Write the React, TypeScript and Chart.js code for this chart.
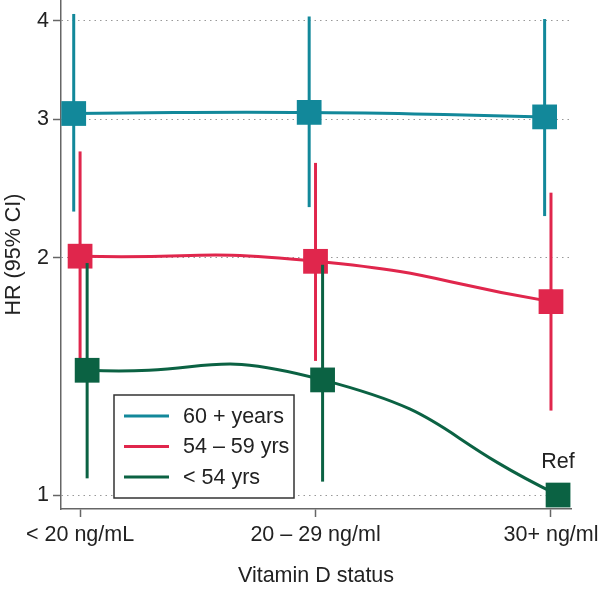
import { useEffect, useRef } from 'react';
import { Chart, registerables } from 'chart.js';
Chart.register(...registerables);

const categories = ['< 20 ng/mL', '20 – 29 ng/ml', '30+ ng/ml'];
const seriesLabels = ['60 + years', '54 – 59 yrs', '< 54 yrs'];
const seriesColors = ['#12889A', '#E0264C', '#0B6243'];
const hrOver60 = [3.05, 3.06, 3.02];
const loOver60 = [2.29, 2.32, 2.26];
const hiOver60 = [4.08, 4.05, 4.02];
const hr54to59 = [2.01, 1.98, 1.76];
const lo54to59 = [1.48, 1.48, 1.28];
const hi54to59 = [2.73, 2.64, 2.42];
const hrUnder54 = [1.44, 1.4, 1.0];
const loUnder54 = [1.05, 1.04, null];
const hiUnder54 = [1.97, 1.96, null];
const yTicks = [1, 2, 3, 4];
const refLabel = 'Ref';

const dodge = [-0.027, 0, 0.03];
const FONT = { family: "'Liberation Sans', Arial, sans-serif", size: 21.5 };
const TEXT = '#222';
const AXIS = '#666';

function build(hr: number[], lo: (number | null)[], hi: (number | null)[], s: number) {
  return categories.map((_, i) => ({ x: i + 1 + dodge[s], y: hr[i], lo: lo[i], hi: hi[i] }));
}

const errorBars = {
  id: 'errorBars',
  beforeDatasetDraw(chart: any, args: any) {
    const ds = chart.data.datasets[args.index];
    const xs = chart.scales.x;
    const ys = chart.scales.y;
    const ctx = chart.ctx;
    ctx.save();
    ctx.strokeStyle = ds.borderColor;
    ctx.lineWidth = 3;
    ds.data.forEach((d: any) => {
      if (d.lo == null || d.hi == null) return;
      const px = xs.getPixelForValue(d.x);
      ctx.beginPath();
      ctx.moveTo(px, ys.getPixelForValue(d.lo));
      ctx.lineTo(px, ys.getPixelForValue(d.hi));
      ctx.stroke();
    });
    ctx.restore();
  },
};

const refAndLegend = {
  id: 'refAndLegend',
  afterDatasetsDraw(chart: any) {
    const ctx = chart.ctx;
    const ds = chart.data.datasets[2];
    const last = ds.data[ds.data.length - 1];
    const px = chart.scales.x.getPixelForValue(last.x);
    const py = chart.scales.y.getPixelForValue(last.y);
    ctx.save();
    ctx.font = `${FONT.size}px ${FONT.family}`;
    ctx.fillStyle = TEXT;
    ctx.textAlign = 'center';
    ctx.textBaseline = 'middle';
    ctx.fillText(refLabel, px, py - 33);

    // legend box
    const bx = 114, by = 395, bw = 180, bh = 103;
    ctx.fillStyle = '#fff';
    ctx.fillRect(bx, by, bw, bh);
    ctx.strokeStyle = '#333';
    ctx.lineWidth = 1.5;
    ctx.strokeRect(bx, by, bw, bh);
    chart.data.datasets.forEach((d: any, i: number) => {
      const y = by + 21 + i * 30.5;
      ctx.strokeStyle = d.borderColor;
      ctx.lineWidth = 3;
      ctx.beginPath();
      ctx.moveTo(bx + 10, y);
      ctx.lineTo(bx + 55, y);
      ctx.stroke();
      ctx.fillStyle = TEXT;
      ctx.textAlign = 'left';
      ctx.textBaseline = 'middle';
      ctx.fillText(d.label, bx + 69, y + 1);
    });
    ctx.restore();
  },
};

export default function App() {
  const ref = useRef<HTMLCanvasElement>(null);
  useEffect(() => {
    const series = [
      build(hrOver60, loOver60, hiOver60, 0),
      build(hr54to59, lo54to59, hi54to59, 1),
      build(hrUnder54, loUnder54, hiUnder54, 2),
    ];
    const chart = new Chart(ref.current!, {
      type: 'line',
      data: {
        datasets: series.map((data, s) => ({
          label: seriesLabels[s],
          data,
          borderColor: seriesColors[s],
          backgroundColor: seriesColors[s],
          borderWidth: 3,
          tension: 0.55,
          pointStyle: 'rect',
          pointRadius: 17.5,
          pointBorderWidth: 0,
          pointBackgroundColor: seriesColors[s],
          order: 3 - s,
          clip: false,
        })),
      } as any,
      options: {
        responsive: false,
        animation: false,
        layout: { autoPadding: false, padding: { left: 0, right: 29, top: 0, bottom: 0 } },
        plugins: { legend: { display: false }, tooltip: { enabled: false } },
        scales: {
          x: {
            type: 'linear',
            min: 0.919,
            max: 3.085,
            afterBuildTicks: (s: any) => {
              s.ticks = categories.map((_, i) => ({ value: i + 1 }));
            },
            ticks: {
              callback: (v: any) => categories[Math.round(Number(v)) - 1] ?? '',
              font: FONT,
              color: TEXT,
              padding: 5,
              maxRotation: 0,
              autoSkip: false,
            },
            grid: { drawOnChartArea: false, tickLength: 8, tickColor: AXIS, tickWidth: 1.5 },
            border: { color: AXIS, width: 1.5 },
            title: { display: true, text: 'Vitamin D status', font: FONT, color: TEXT, padding: { top: 0, bottom: 0 } },
            afterFit: (s: any) => {
              s.height = 80;
              s.paddingLeft = 0;
              s.paddingRight = 0;
            },
          },
          y: {
            type: 'logarithmic',
            min: 0.96,
            max: 4.25,
            afterBuildTicks: (s: any) => {
              s.ticks = yTicks.map((v) => ({ value: v }));
            },
            ticks: { callback: (v: any) => String(v), font: FONT, color: TEXT, padding: 4 },
            grid: { color: '#999', lineWidth: 1, tickLength: 8, tickColor: AXIS, tickWidth: 1.5, tickBorderDash: [] },
            border: { color: AXIS, width: 1.5, dash: [1.5, 4] },
            title: { display: true, text: 'HR (95% CI)', font: FONT, color: TEXT, padding: { top: 1, bottom: 0 } },
            afterFit: (s: any) => {
              s.width = 61;
              s.paddingTop = 0;
              s.paddingBottom = 0;
            },
          },
        },
      } as any,
      plugins: [errorBars, refAndLegend],
    });
    return () => chart.destroy();
  }, []);
  return (
    <div style={{ position: 'absolute', left: 0, top: 0 }}>
      <canvas ref={ref} width={600} height={589} style={{ display: 'block' }} />
    </div>
  );
}
